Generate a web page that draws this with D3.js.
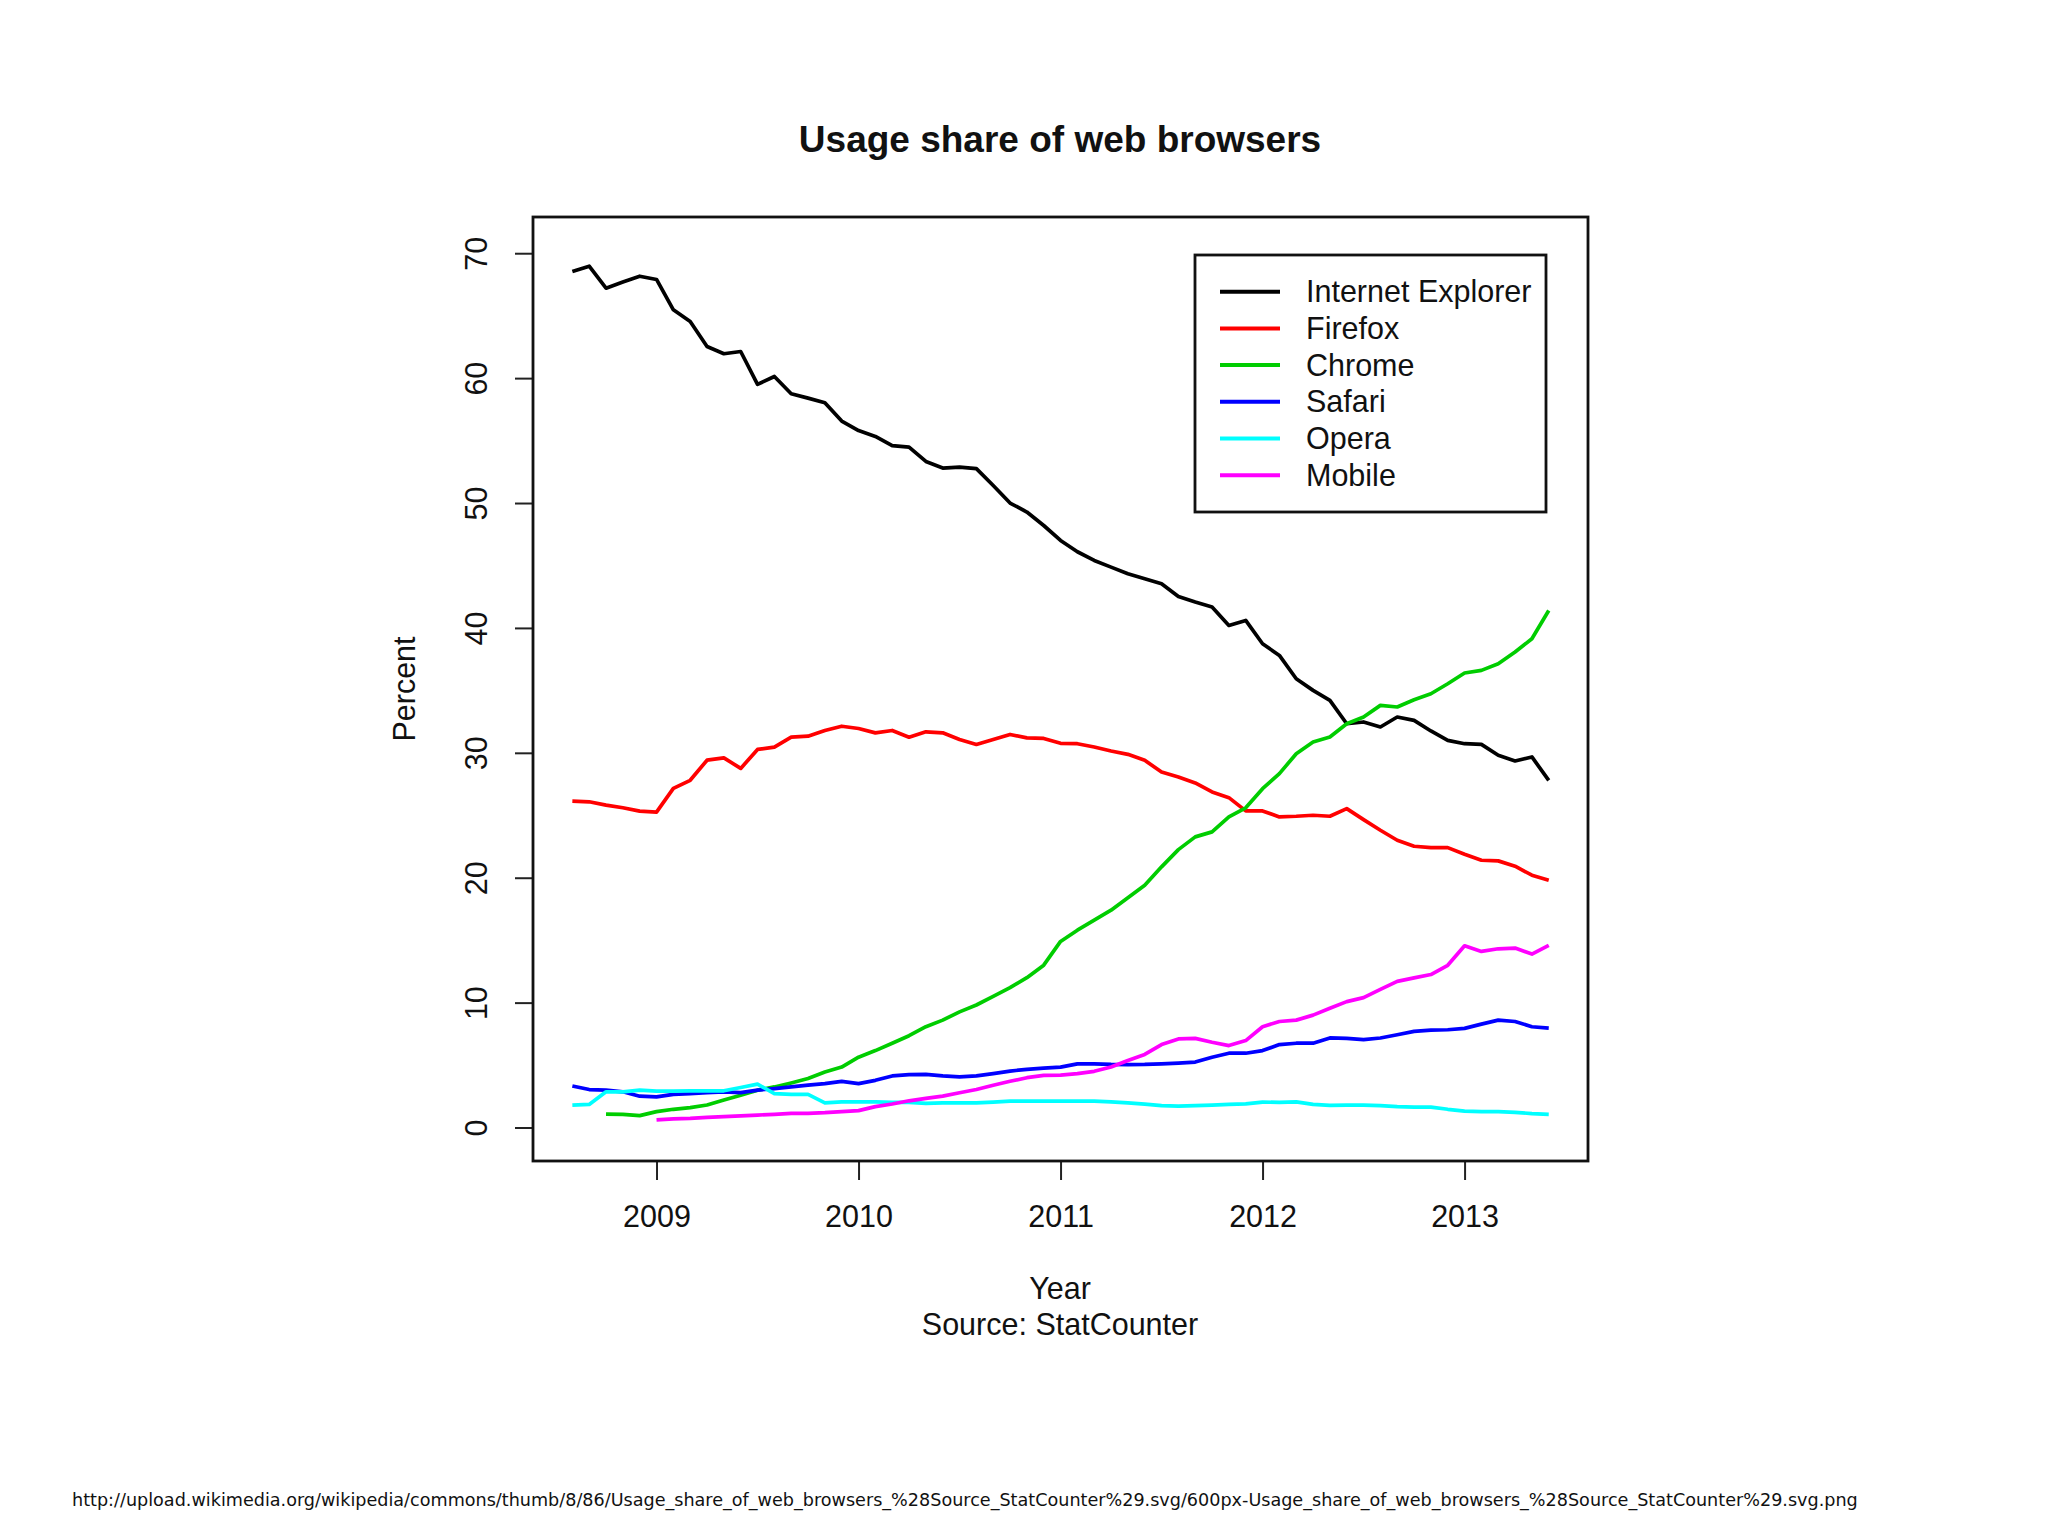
<!DOCTYPE html>
<html>
<head>
<meta charset="utf-8">
<script src="https://cdn.jsdelivr.net/npm/d3@7"></script>
<style>
  body { margin: 0; background: #fff; }
  text { font-family: "Liberation Sans", Arial, sans-serif; fill: #111; }
</style>
</head>
<body>
<svg id="chart" width="2048" height="1536"></svg>
<script>
// monthly StatCounter figures, Jul 2008 .. May 2013
const months = [
  "2008-07","2008-08","2008-09","2008-10","2008-11","2008-12",
  "2009-01","2009-02","2009-03","2009-04","2009-05","2009-06","2009-07","2009-08","2009-09","2009-10","2009-11","2009-12",
  "2010-01","2010-02","2010-03","2010-04","2010-05","2010-06","2010-07","2010-08","2010-09","2010-10","2010-11","2010-12",
  "2011-01","2011-02","2011-03","2011-04","2011-05","2011-06","2011-07","2011-08","2011-09","2011-10","2011-11","2011-12",
  "2012-01","2012-02","2012-03","2012-04","2012-05","2012-06","2012-07","2012-08","2012-09","2012-10","2012-11","2012-12",
  "2013-01","2013-02","2013-03","2013-04","2013-05"
];

const ie = [68.53, 68.96, 67.2, 67.7, 68.16, 67.9, 65.47, 64.53, 62.53, 61.95, 62.13, 59.5, 60.13, 58.75, 58.4, 58.03,
  56.56, 55.8, 55.33, 54.6, 54.48, 53.33, 52.8, 52.88, 52.75, 51.4, 50.0, 49.28, 48.2, 47.0, 46.1, 45.4, 44.87, 44.33,
  43.93, 43.53, 42.52, 42.07, 41.67, 40.2, 40.6, 38.73, 37.8, 35.93, 35.0, 34.2, 32.33, 32.47, 32.07, 32.87, 32.6,
  31.75, 31.0, 30.73, 30.68, 29.8, 29.35, 29.67, 27.8];

const firefox = [26.13, 26.08, 25.81, 25.6, 25.33, 25.25, 27.15, 27.8, 29.41, 29.6, 28.75, 30.27, 30.45, 31.25, 31.33,
  31.79, 32.13, 31.95, 31.6, 31.79, 31.25, 31.68, 31.6, 31.07, 30.67, 31.07, 31.47, 31.2, 31.15, 30.76, 30.73, 30.47,
  30.15, 29.88, 29.4, 28.47, 28.07, 27.59, 26.87, 26.41, 25.35, 25.35, 24.87, 24.92, 25.0, 24.92, 25.53, 24.65, 23.8,
  23.0, 22.52, 22.41, 22.41, 21.88, 21.4, 21.35, 20.92, 20.2, 19.8];

const chrome = [null, null, 1.08, 1.06, 0.95, 1.27, 1.46, 1.59, 1.8, 2.2, 2.59, 2.99, 3.25, 3.57, 3.92, 4.44, 4.84,
  5.63, 6.16, 6.75, 7.35, 8.07, 8.6, 9.26, 9.81, 10.5, 11.2, 12.0, 13.0, 14.9, 15.8, 16.6, 17.4, 18.4, 19.4, 20.87,
  22.25, 23.27, 23.67, 24.87, 25.6, 27.13, 28.33, 29.93, 30.87, 31.27, 32.33, 32.87, 33.8, 33.67, 34.25, 34.73, 35.53,
  36.39, 36.6, 37.13, 38.07, 39.13, 41.4];

const safari = [3.33, 3.04, 2.99, 2.86, 2.51, 2.46, 2.65, 2.72, 2.8, 2.86, 2.8, 2.99, 3.12, 3.25, 3.39, 3.52, 3.7,
  3.52, 3.78, 4.13, 4.23, 4.26, 4.13, 4.05, 4.13, 4.31, 4.52, 4.66, 4.76, 4.84, 5.1, 5.1, 5.05, 5.03, 5.05, 5.1, 5.16,
  5.24, 5.63, 5.95, 5.95, 6.16, 6.64, 6.75, 6.75, 7.17, 7.14, 7.04, 7.17, 7.43, 7.7, 7.8, 7.83, 7.94, 8.28, 8.6, 8.49,
  8.07, 7.96];

const opera = [1.8, 1.85, 2.86, 2.86, 2.99, 2.91, 2.91, 2.94, 2.94, 2.94, 3.2, 3.47, 2.72, 2.65, 2.65, 1.98, 2.06,
  2.06, 2.06, 2.01, 2.01, 1.93, 1.98, 1.98, 1.98, 2.04, 2.12, 2.12, 2.12, 2.12, 2.12, 2.12, 2.06, 1.98, 1.88, 1.75,
  1.72, 1.75, 1.8, 1.85, 1.9, 2.04, 2.01, 2.06, 1.85, 1.77, 1.8, 1.8, 1.75, 1.67, 1.64, 1.64, 1.46, 1.32, 1.27, 1.27,
  1.22, 1.11, 1.06];

const mobile = [null, null, null, null, null, 0.61, 0.69, 0.74, 0.82, 0.87, 0.93, 1.0, 1.06, 1.14, 1.14, 1.19, 1.27,
  1.35, 1.67, 1.88, 2.14, 2.33, 2.51, 2.78, 3.04, 3.39, 3.7, 3.99, 4.18, 4.2, 4.31, 4.5, 4.84, 5.37, 5.85, 6.64, 7.09,
  7.14, 6.83, 6.56, 6.96, 8.07, 8.49, 8.6, 9.0, 9.55, 10.08, 10.4, 11.06, 11.7, 11.98, 12.25, 12.99, 14.55, 14.1,
  14.31, 14.37, 13.89, 14.58];

const seriesNames = ["Internet Explorer", "Firefox", "Chrome", "Safari", "Opera", "Mobile"];
const seriesColors = ["#000000", "#ff0000", "#00cd00", "#0000ff", "#00ffff", "#ff00ff"];
const seriesValues = [ie, firefox, chrome, safari, opera, mobile];

const yearTicks = [2009, 2010, 2011, 2012, 2013];
const percentTicks = [0, 10, 20, 30, 40, 50, 60, 70];

const titleText = "Usage share of web browsers";
const xLabel = "Year";
const sourceText = "Source: StatCounter";
const yLabel = "Percent";
const urlText = "http://upload.wikimedia.org/wikipedia/commons/thumb/8/86/Usage_share_of_web_browsers_%28Source_StatCounter%29.svg/600px-Usage_share_of_web_browsers_%28Source_StatCounter%29.svg.png";

// plot frame (R style box)
const frame = { left: 533, right: 1588, top: 217, bottom: 1161 };
const fontSize = 30.5;

const svg = d3.select("#chart");

// decimal year like R's year + month/12
const monthX = months.map(m => {
    const [yy, mm] = m.split("-").map(Number);
    return yy + mm / 12;
});

const x = d3.scaleLinear()
    .domain([2008.3885, 2013.611])
    .range([frame.left, frame.right]);

const y = d3.scaleLinear()
    .domain([-2.68, 72.9])
    .range([frame.bottom, frame.top]);

// x axis
svg.append("g")
    .attr("transform", `translate(0,${frame.bottom})`)
    .call(d3.axisBottom(x).tickValues(yearTicks).tickFormat(d3.format("d")).tickSize(19).tickPadding(25))
    .call(g => g.select(".domain").remove())
    .call(g => g.selectAll("line").attr("stroke", "#222").attr("stroke-width", 2))
    .call(g => g.selectAll("text").attr("font-size", fontSize).attr("font-family", null).style("fill", "#111"));

// y axis, labels turned like R's las = 0
svg.append("g")
    .attr("transform", `translate(${frame.left},0)`)
    .call(d3.axisLeft(y).tickValues(percentTicks).tickSize(18))
    .call(g => g.select(".domain").remove())
    .call(g => g.selectAll("line").attr("stroke", "#222").attr("stroke-width", 2))
    .call(g => g.selectAll("text")
        .attr("font-size", fontSize)
        .attr("font-family", null)
        .style("fill", "#111")
        .attr("x", null)
        .attr("dy", null)
        .attr("text-anchor", "middle")
        .attr("transform", `translate(${487 - frame.left},0) rotate(-90)`));

// lines
const line = d3.line()
    .defined(d => d != null)
    .x((d, i) => x(monthX[i]))
    .y(d => y(d));

svg.append("g")
    .selectAll("path")
    .data(seriesValues)
    .join("path")
    .attr("fill", "none")
    .attr("stroke", (d, i) => seriesColors[i])
    .attr("stroke-width", 3.7)
    .attr("stroke-linejoin", "round")
    .attr("d", line);

// box
svg.append("rect")
    .attr("x", frame.left)
    .attr("y", frame.top)
    .attr("width", frame.right - frame.left)
    .attr("height", frame.bottom - frame.top)
    .attr("fill", "none")
    .attr("stroke", "#111")
    .attr("stroke-width", 2.8);

// legend
const legend = svg.append("g");
legend.append("rect")
    .attr("x", 1195)
    .attr("y", 255)
    .attr("width", 351)
    .attr("height", 257)
    .attr("fill", "#fff")
    .attr("stroke", "#111")
    .attr("stroke-width", 2.8);

const rows = legend.selectAll("g.row")
    .data(seriesNames)
    .join("g")
    .attr("class", "row")
    .attr("transform", (d, i) => `translate(0,${291.7 + i * 36.7})`);

rows.append("line")
    .attr("x1", 1220)
    .attr("x2", 1280)
    .attr("stroke", (d, i) => seriesColors[i])
    .attr("stroke-width", 4);

rows.append("text")
    .attr("x", 1306)
    .attr("dy", "0.35em")
    .attr("font-size", fontSize)
    .text(d => d);

// titles
svg.append("text")
    .attr("x", 1060)
    .attr("y", 152)
    .attr("text-anchor", "middle")
    .attr("font-size", 37)
    .attr("font-weight", "bold")
    .text(titleText);

svg.append("text")
    .attr("x", 1060)
    .attr("y", 1299)
    .attr("text-anchor", "middle")
    .attr("font-size", fontSize)
    .text(xLabel);

svg.append("text")
    .attr("x", 1060)
    .attr("y", 1335)
    .attr("text-anchor", "middle")
    .attr("font-size", fontSize)
    .text(sourceText);

svg.append("text")
    .attr("transform", `translate(415,${(frame.top + frame.bottom) / 2}) rotate(-90)`)
    .attr("text-anchor", "middle")
    .attr("font-size", fontSize)
    .text(yLabel);

svg.append("text")
    .attr("x", 72)
    .attr("y", 1506)
    .attr("font-size", 17.6)
    .style("font-family", "'DejaVu Sans', Verdana, sans-serif")
    .text(urlText);
</script>
</body>
</html>
